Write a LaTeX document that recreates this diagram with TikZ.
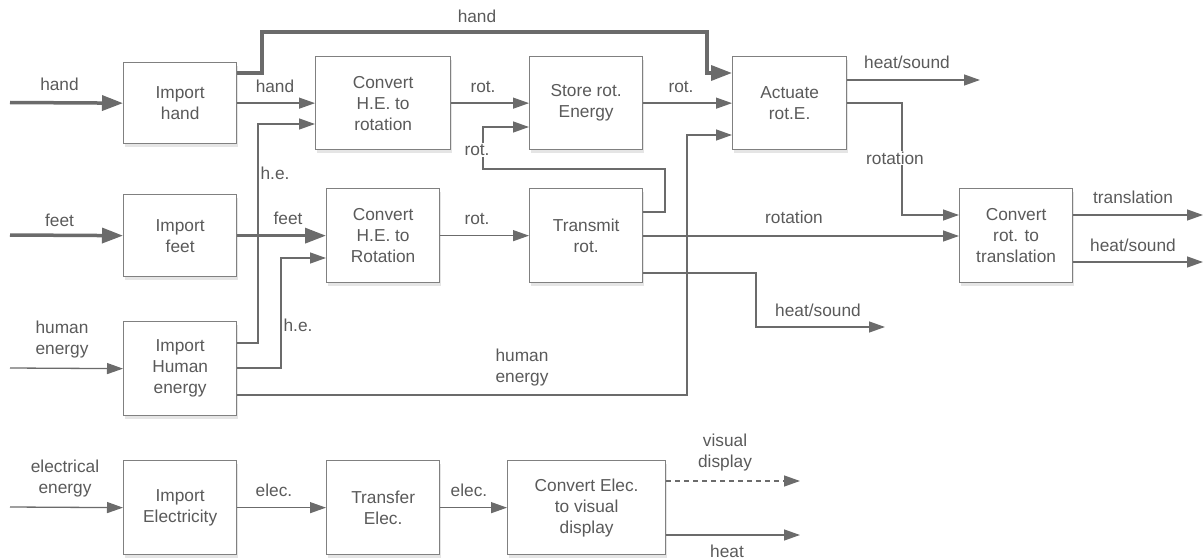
\documentclass[tikz,border=0pt]{standalone}
\usepackage{fontspec}
\setmainfont{Liberation Sans}
\usetikzlibrary{arrows.meta,shadows}
\definecolor{linec}{HTML}{6B6B6B}
\definecolor{boxc}{HTML}{808080}
\definecolor{textc}{HTML}{5A5A5A}
\begin{document}
\begin{tikzpicture}[x=1pt,y=-1pt,
  every node/.style={font=\fontsize{17.3}{21}\selectfont, text=textc},
  fbox/.style={draw=boxc, line width=1.3pt, fill=white, align=center, anchor=north west,
    inner sep=0pt, drop shadow={shadow xshift=1pt, shadow yshift=-3pt, opacity=0.10, fill=black}},
  lbl/.style={align=center, inner sep=1pt},
  arr/.style={draw=linec, line width=1.3pt, -{Triangle[length=16pt,width=11pt]}},
  tarr/.style={draw=linec, line width=3.5pt, -{Triangle[length=21pt,width=15pt]}},
]
\useasboundingbox (0,0) rectangle (1203,559);

% boxes
\node[fbox, minimum width=113pt, minimum height=81pt] (ih) at (123,62) {Import\\hand};
\node[fbox, minimum width=135pt, minimum height=93pt] (c1) at (315,56) {Convert\\H.E. to\\rotation};
\node[fbox, minimum width=113pt, minimum height=93pt] (st) at (529,56) {Store rot.\\Energy};
\node[fbox, minimum width=114pt, minimum height=93pt] (act) at (732,56) {Actuate\\rot.E.};
\node[fbox, minimum width=113pt, minimum height=82pt] (if) at (123,194) {Import\\feet};
\node[fbox, minimum width=113pt, minimum height=94pt] (c2) at (326,188) {Convert\\H.E. to\\Rotation};
\node[fbox, minimum width=113pt, minimum height=94pt] (tr) at (529,188) {Transmit\\rot.};
\node[fbox, minimum width=113pt, minimum height=94pt] (cr) at (959,188) {Convert\\rot. to\\translation};
\node[fbox, minimum width=113pt, minimum height=94pt] (ihe) at (123,321) {Import\\Human\\energy};
\node[fbox, minimum width=113pt, minimum height=94pt] (iel) at (123,460) {Import\\Electricity};
\node[fbox, minimum width=113pt, minimum height=94pt] (tel) at (326,460) {Transfer\\Elec.};
\node[fbox, minimum width=158pt, minimum height=94pt] (cev) at (507,460) {Convert Elec.\\to visual\\display};

% free ends
\coordinate (inhand) at (10,102.5);
\coordinate (infeet) at (10,235);
\coordinate (inhe) at (10,368);
\coordinate (inel) at (10,507);
\coordinate (ouths1) at (980,80);
\coordinate (outtr) at (1203,215);
\coordinate (ouths2) at (1203,262);
\coordinate (ouths3) at (885,327);
\coordinate (outvd) at (800,481);
\coordinate (outheat) at (800,535);

% connectors
\draw[arr] (ihe.east |- 0,343) -| (258,124) -- (c1.west |- 0,124);
\draw[arr] (ihe.east |- 0,368) -| (281,258) -- (c2.west |- 0,258);
\draw[arr] (ihe.east |- 0,395) -| (687,135) -- (act.west |- 0,135);
\draw[tarr] (inhand) -- (ih.west);
\draw[arr] (ih.east) -- (c1.west);
\draw[tarr] (ih.east |- 0,73) -- (262,73) -- (262,32) -- (707,32) -- (707,73) -- (act.west |- 0,73);
\draw[arr] (c1.east) -- (st.west);
\draw[arr] (st.east) -- (act.west);
\draw[arr] (tr.east |- 0,212) -| (665,169) -| (483,127) -- (st.west |- 0,127);
\draw[arr] (act.east |- 0,80) -- (ouths1);
\draw[arr] (act.east |- 0,103) -| (902,215) -- (cr.west |- 0,215);
\draw[arr] (tr.east |- 0,236) -- (cr.west |- 0,236);
\draw[arr] (tr.east |- 0,273) -| (756,327) -- (ouths3);
\draw[arr] (cr.east |- 0,215) -- (outtr);
\draw[arr] (cr.east |- 0,262) -- (ouths2);
\draw[tarr] (infeet) -- (if.west);
\draw[tarr] (if.east) -- (c2.west);
\draw[arr] (c2.east) -- (tr.west);
\draw[arr] (inhe) -- (ihe.west);
\draw[arr] (inel) -- (iel.west);
\draw[arr] (iel.east) -- (tel.west);
\draw[arr] (tel.east) -- (cev.west);
\draw[arr, dashed, dash pattern=on 5pt off 4pt] (cev.east |- 0,481) -- (outvd);
\draw[arr] (cev.east |- 0,535) -- (outheat);

% labels
\node[lbl] (l1) at (59.5,84) {hand};
\node[lbl] (l2) at (275,86) {hand};
\node[lbl] (l3) at (477,16) {hand};
\node[lbl] (l4) at (483,87) {rot.};
\node[lbl] (l5) at (681,87) {rot.};
\node[lbl, fill=white] (l6) at (477,150) {rot.};
\node[lbl] (l7) at (907,62) {heat/sound};
\node[lbl, fill=white] (l8) at (895,158) {rotation};
\node[lbl] (l9) at (1133,197) {translation};
\node[lbl] (l10) at (1133,245) {heat/sound};
\node[lbl] (l11) at (794,217) {rotation};
\node[lbl] (l12) at (818,310) {heat/sound};
\node[lbl] (l13) at (59.5,220) {feet};
\node[lbl] (l14) at (288,218) {feet};
\node[lbl] (l15) at (477,219) {rot.};
\node[lbl] (l16) at (275,173) {h.e.};
\node[lbl] (l17) at (298,325) {h.e.};
\node[lbl] (l18) at (62,340) {human\\energy};
\node[lbl] (l19) at (522,368) {human\\energy};
\node[lbl] (l20) at (65,479) {electrical\\energy};
\node[lbl] (l21) at (274,490) {elec.};
\node[lbl] (l22) at (469,490) {elec.};
\node[lbl] (l23) at (725,453) {visual\\display};
\node[lbl] (l24) at (727,551) {heat};
\end{tikzpicture}
\end{document}
